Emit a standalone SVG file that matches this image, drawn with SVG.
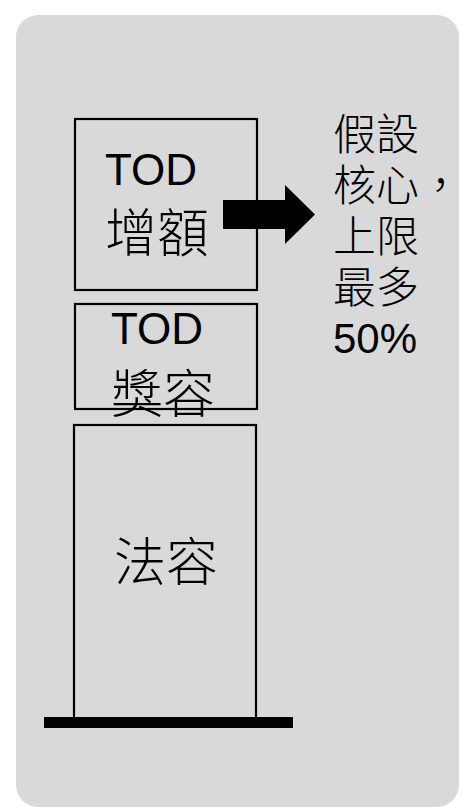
<svg xmlns="http://www.w3.org/2000/svg" width="462" height="807" viewBox="0 0 462 807">
<style>
.box{fill:none;stroke:#000;stroke-width:2.2}
.lat{font-family:"Liberation Sans",Arial,sans-serif;fill:#000}
.cjk{font-family:"Liberation Sans","Noto Sans CJK TC",sans-serif;fill:#000;font-weight:300}
</style>
<rect x="16" y="15" width="443" height="792" rx="22" fill="#d9d9d9"/>
<g id="tod-increment">
<rect class="box" x="75" y="119" width="182" height="171"/>
<text class="lat" x="105" y="185" font-size="44">TOD</text>
<text class="cjk" x="105" y="252" font-size="52">增額</text>
</g>
<g id="tod-bonus">
<rect class="box" x="75" y="304" width="182" height="105"/>
<text class="lat" x="111" y="344" font-size="44">TOD</text>
<text class="cjk" x="111" y="413" font-size="52">獎容</text>
</g>
<g id="legal">
<rect class="box" x="74" y="425" width="182" height="295"/>
<text class="cjk" x="114" y="581" font-size="52">法容</text>
</g>
<g id="base">
<rect x="44" y="717" width="249" height="11" fill="#000"/>
</g>
<g id="connectors">
<polygon points="223,200 285,200 285,185 315,214.5 285,244 285,229 223,229" fill="#000"/>
</g>
<g id="note">
<text class="cjk" font-size="43"><tspan x="333" y="150">假設</tspan><tspan x="333" y="201">核心，</tspan><tspan x="333" y="252">上限</tspan><tspan x="333" y="303">最多</tspan></text>
<text class="lat" x="333" y="353" font-size="42">50%</text>
</g>
</svg>
